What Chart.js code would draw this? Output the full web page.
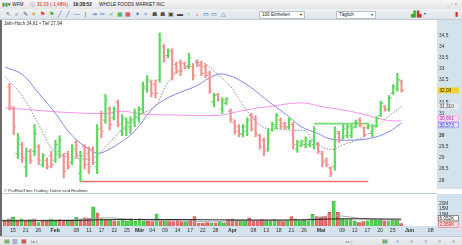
<!DOCTYPE html>
<html>
<head>
<meta charset="utf-8">
<script src="https://cdn.jsdelivr.net/npm/chart.js@4.4.0/dist/chart.umd.min.js"></script>
<style>
  body { margin: 0; width: 462px; height: 245px; overflow: hidden; background: #fff; position: relative;
         font-family: "Liberation Sans", Arial, sans-serif; color: #222; }
  .abs { position: absolute; }
  #titlebar { left: 0; top: 0; width: 462px; height: 9px; background: linear-gradient(#f6f6f6, #e4e4e4); font-size: 4.7px; line-height: 9px; white-space: nowrap; }
  #toolbar { left: 0; top: 9px; width: 462px; height: 10px; background: linear-gradient(#eef1f4, #dfe4e9); border-bottom: 1px solid #c3ccd4; font-size: 6px; line-height: 10px; white-space: nowrap; }
  .ico { position: absolute; top: 0; width: 8px; text-align: center; }
  .drop { position: absolute; top: 2px; height: 6px; background: #fff; border: 1px solid #b9c2ca; font-size: 4.6px; line-height: 6px; padding-left: 2px; box-sizing: content-box; }
  .drop b { position: absolute; right: 2px; font-weight: normal; font-size: 4px; }
  #priceCv { left: 0; top: 20px; }
  #volCv { left: 0; top: 194px; }
  #sep { left: 0; top: 193px; width: 437px; height: 1px; background: #bccad6; }
  #leftbar { left: 0; top: 20px; width: 2px; height: 216px; background: #6b6b6b; }
  #info { left: 4px; top: 21px; font-size: 4.6px; color: #333; }
  #copy { left: 4px; top: 188px; font-size: 4.2px; color: #333; }
  #bottombar { left: 0; top: 236px; width: 462px; height: 9px; background: linear-gradient(#eef0f2, #dde2e6); border-top: 1px solid #c3ccd4; font-size: 6px; line-height: 9px; white-space: nowrap; }
</style>
</head>
<body>
<div id="titlebar" class="abs">
  <span class="abs" style="left:2px;color:#2a9a2a;font-size:5px">▮▮</span>
  <span class="abs" style="left:8px">▾ WFM</span>
  <span class="abs" style="left:30px;color:#777">ⓘ</span>
  <span class="abs" style="left:37px;color:#d22">32,03 (-1,48%)</span>
  <span class="abs" style="left:73px;font-weight:bold">19:38:52</span>
  <span class="abs" style="left:99px">WHOLE FOODS MARKET INC.</span>
  <span class="abs" style="left:447px;color:#999;font-size:5px">_ ▫ ×</span>
</div>
<div id="toolbar" class="abs"></div>
<canvas id="priceCv" class="abs" width="462" height="174"></canvas>
<canvas id="volCv" class="abs" width="462" height="42"></canvas>
<div id="sep" class="abs"></div>
<div id="leftbar" class="abs"></div>
<div id="info" class="abs">Jahr-Hoch 34,61 • Tief 27,94</div>
<div id="copy" class="abs">© ProRealTime Trading: Daten sind Realtime</div>
<div id="bottombar" class="abs">
  <span class="abs" style="left:4px;color:#2a8a2a">▤</span>
  <span class="abs" style="left:12px;color:#3a6ac0">▥</span>
  <span class="abs" style="left:21px;color:#c03030">▦</span>
  <span class="abs" style="left:31px;color:#666;font-size:4px">| ▸ |</span>
  <span class="abs" style="left:345px;color:#888;font-size:4px">◂ ▸ |</span>
  <span class="abs" style="left:382px;color:#2a8a2a">▤</span>
  <span class="abs" style="left:396px;color:#3a6ac0">⌕</span>
  <span class="abs" style="left:410px;color:#3a6ac0">⌕</span>
  <span class="abs" style="left:424px;color:#3a6ac0">⌕</span>
  <span class="abs" style="left:438px;color:#3a6ac0">⌕</span>
  <span class="abs" style="left:452px;color:#3a6ac0">⌕</span>
</div>
<script>
// ===== DATA (daily bars, 13 Jan - 27 May) =====
const open = [32.2, 31.2, 29.2, 29.6, 28.6, 29.3, 29.3, 29.5, 28.7, 28.9, 29.1, 28.9, 29.3, 29.1, 29.2, 28.8, 29.7, 28.3, 29.5, 29.2,
  29.4, 28.6, 31.0, 30.7, 31.2, 30.8, 31.5, 30.2, 30.3, 30.4, 30.6, 30.8, 31.2, 32.1, 32.4, 32.3, 32.5, 34.0, 33.6, 33.8,
  33.2, 33.3, 33.25, 33.1, 33.1, 33.35, 33.2, 33.1, 32.8, 31.5, 31.85, 31.2, 31.45, 31.1, 30.6, 30.4, 30.1, 30.2, 30.9, 30.8,
  30.0, 29.8, 29.4, 30.25, 30.4, 30.7, 30.55, 30.4, 30.5, 29.4, 29.55, 29.6, 29.6, 29.6, 29.6, 29.2, 28.9, 28.55, 28.6, 30.1,
  29.9, 30.0, 30.0, 30.4, 30.7, 30.35, 30.35, 30.1, 30.45, 30.9, 31.3, 31.2, 31.9, 32.1, 32.45];
const high = [32.35, 31.3, 30.1, 29.7, 29.45, 29.4, 30.5, 29.6, 29.2, 29.0, 29.3, 29.8, 30.0, 29.2, 29.3, 29.6, 29.8, 29.3, 29.6, 29.5,
  29.5, 30.5, 31.1, 31.85, 31.3, 31.3, 31.6, 30.95, 30.8, 30.85, 31.2, 31.3, 32.4, 32.7, 32.5, 32.5, 34.61, 34.1, 33.9, 33.9,
  33.3, 33.4, 33.3, 33.7, 33.2, 33.4, 33.35, 33.2, 32.9, 31.9, 31.9, 31.7, 31.7, 31.2, 30.7, 30.5, 30.5, 30.8, 31.0, 30.9,
  30.07, 29.9, 30.3, 30.6, 31.0, 30.8, 30.6, 30.8, 30.6, 29.8, 29.8, 29.95, 29.8, 30.4, 29.7, 29.3, 29.0, 28.6, 30.4, 30.2,
  30.5, 30.5, 30.5, 30.7, 30.8, 30.4, 30.5, 30.5, 30.85, 31.55, 31.35, 31.8, 32.3, 32.8, 32.5];
const low = [31.15, 30.05, 28.97, 28.8, 28.16, 28.75, 29.1, 28.7, 28.6, 28.5, 28.55, 28.8, 29.0, 28.1, 28.5, 28.7, 29.0, 27.94, 28.5, 28.3,
  28.7, 28.3, 29.9, 30.55, 30.25, 30.7, 30.4, 30.0, 30.0, 30.1, 30.4, 30.6, 31.0, 31.95, 31.75, 31.7, 32.4, 33.3, 33.5, 32.5,
  32.8, 32.7, 33.0, 33.0, 32.5, 33.1, 32.7, 32.6, 31.9, 31.3, 31.55, 31.0, 31.4, 30.6, 30.07, 29.95, 29.95, 30.0, 30.2, 29.95,
  29.4, 29.1, 29.3, 30.2, 30.3, 30.3, 30.3, 30.3, 29.4, 29.25, 29.5, 29.45, 29.5, 29.4, 29.2, 28.6, 28.6, 28.16, 28.45, 29.7,
  29.85, 29.9, 29.9, 30.35, 30.4, 29.95, 30.3, 29.95, 30.4, 30.85, 31.1, 31.1, 31.85, 32.0, 31.95];
const close = [31.3, 30.4, 29.85, 29.0, 29.3, 28.9, 30.1, 28.9, 29.1, 28.6, 28.7, 29.6, 29.8, 28.4, 28.6, 29.4, 29.1, 29.1, 28.7, 28.6,
  28.8, 30.3, 30.2, 31.6, 30.5, 31.2, 30.5, 30.8, 30.6, 30.7, 31.0, 31.2, 32.2, 32.5, 31.9, 31.9, 34.3, 33.5, 33.8, 32.8,
  32.9, 32.9, 33.05, 33.5, 32.7, 33.15, 32.8, 32.7, 32.0, 31.8, 31.6, 31.6, 31.65, 30.75, 30.2, 30.05, 30.4, 30.7, 30.3, 30.1,
  29.5, 29.3, 30.1, 30.5, 30.9, 30.4, 30.35, 30.7, 29.6, 29.7, 29.75, 29.85, 29.75, 30.3, 29.3, 28.8, 28.7, 28.3, 30.2, 29.8,
  30.3, 30.4, 30.35, 30.6, 30.45, 30.05, 30.45, 30.4, 30.8, 31.45, 31.15, 31.7, 32.2, 32.51, 32.03];
const volume = [5.1, 6.4, 7.7, 5.1, 6.4, 5.1, 5.6, 6.4, 3.1, 4.6, 4.6, 6.0, 5.1, 5.6, 4.6, 4.4, 5.1, 7.7, 6.4, 7.2,
  7.0, 16.7, 11.5, 6.4, 5.6, 5.1, 4.6, 4.6, 5.6, 4.6, 6.4, 4.1, 6.4, 4.6, 4.1, 3.8, 10.8, 4.6, 4.6, 3.8,
  3.8, 5.1, 3.8, 3.8, 5.1, 8.2, 2.6, 2.6, 3.1, 2.6, 2.6, 3.8, 2.6, 5.6, 6.4, 5.1, 5.1, 5.1, 7.2, 4.6,
  4.6, 5.6, 4.6, 4.6, 5.6, 4.6, 3.8, 4.6, 8.2, 6.4, 4.6, 5.1, 4.6, 10.3, 8.2, 7.7, 8.2, 12.0, 22.0, 12.0,
  6.4, 5.6, 6.4, 4.6, 3.1, 3.8, 4.6, 5.1, 5.1, 5.6, 4.6, 3.8, 5.6, 5.1, 2.069];

// moving averages: [bar index, value]
const maFast = [[-1, 32.64], [3, 31.8], [7, 30.5], [11, 29.24], [15, 29.02], [19, 28.95], [21, 29.1], [24, 29.7], [30, 30.8], [35, 31.36],
  [38, 32.4], [42, 33.07], [46, 33.28], [49, 32.9], [53, 32.2], [55, 31.65], [58, 30.87], [61, 30.37], [65, 30.3], [68, 30.23],
  [71, 30.2], [73, 29.73], [77, 29.38], [80, 29.59], [84, 29.87], [87, 30.23], [90, 30.73], [94, 31.31]];
const maMid = [[-1, 33.07], [3, 32.75], [7, 31.9], [11, 31.0], [15, 30.0], [19, 29.4], [21, 29.22], [23, 29.3], [27, 29.75], [30, 30.2],
  [34, 31.15], [37, 31.6], [41, 31.95], [45, 32.25], [48, 32.6], [51, 32.77], [56, 32.4], [62, 31.55], [67, 30.85], [70, 30.4],
  [74, 30.09], [77, 29.85], [82, 29.8], [87, 29.9], [91, 30.18], [94, 30.573]];
const maSlow = [[-1, 31.25], [6, 31.15], [13, 31.05], [23, 31.0], [27, 31.1], [32, 30.97], [39, 30.93], [48, 30.9], [51, 30.93], [54, 31.05],
  [58, 31.2], [62, 31.3], [70, 31.47], [75, 31.3], [80, 31.15], [84, 31.0], [88, 30.8], [91, 30.68], [94, 30.661]];
const volMaLong = [[-1, 4.6], [15, 4.8], [25, 5.6], [40, 5.7], [55, 5.3], [70, 5.4], [80, 6.3], [94, 6.052]];
const volMaShort = [[-1, 5.0], [10, 5.2], [18, 5.6], [24, 7.2], [32, 5.4], [42, 4.6], [52, 3.6], [60, 5.0], [70, 5.2], [78, 9.0], [86, 6.0], [94, 5.0]];

// drawn lines: support at the year low and a green resistance line
const lowLine = [[17, 27.94], [86, 27.94]];
const greenLine = [[73, 30.54], [86.2, 30.54]];

// axis ticks
const priceTicks = [28, 28.5, 29, 29.5, 30, 30.5, 31, 31.5, 32, 32.5, 33, 33.5, 34, 34.5];
const volTicks = [10, 15, 20];
const dateTickIdx = [2, 5, 8, 12, 17, 20, 23, 26, 29, 32, 35, 38, 41, 44, 47, 50, 54, 59, 62, 65, 68, 71, 75, 80, 83, 86, 89, 92, 96, 101];
const dateTickLbl = ["15", "21", "26", "Feb", "08", "11", "17", "22", "25", "Mär", "04", "09", "14", "17", "22", "28", "Apr", "08", "13", "18", "21", "26", "Mai", "09", "12", "17", "20", "25", "Jun", "08"];

// ===== toolbar icons =====
const icons = [["↖", "#445"], ["⌕", "#445"], ["✎", "#556"], ["☀", "#c9a000"], ["⚑", "#d33"], ["⚑", "#3a3"], ["╱", "#36c"], ["╱", "#36c"],
  ["—", "#36c"], ["|", "#36c"], ["⇝", "#36c"], ["✂", "#36c"], ["✓", "#3a3"], ["▦", "#3a3"], ["▦", "#c33"], ["✦", "#36c"], ["✧", "#36c"],
  ["☗", "#555"], ["☗", "#555"], ["▣", "#444"], ["▬", "#444"], ["↑", "#2b2"], ["↓", "#d22"], ["▭", "#36c"], ["▭", "#36c"], ["△", "#36c"]];
const tb = document.getElementById("toolbar");
icons.forEach(([c, col], i) => {
  const s = document.createElement("span");
  s.className = "ico";
  s.style.left = (4 + i * 8.6) + "px";
  s.style.color = col;
  s.textContent = c;
  tb.appendChild(s);
});
tb.insertAdjacentHTML("beforeend",
  '<div class="drop" style="left:259px;width:42px">100 Einheiten<b>▾</b></div>' +
  '<div class="drop" style="left:336px;width:36px">Täglich<b>▾</b></div>' +
  '<span class="abs" style="left:411px;color:#3a3">▟</span><span class="abs" style="left:417px;color:#c33">▙</span>' +
  '<span class="abs" style="left:424px;font-size:4px;color:#444">▾</span>' +
  '<span class="abs" style="left:455px;color:#c33">▮</span>');

// ===== helpers =====
const GREEN = "#5ad85a", RED = "#f29090";
const AXIS_BG = "#d3e2ec";
const X_MIN = -1.09, X_MAX = 102.5;
const idx = close.map((_, i) => i);
const up = idx.map(i => close[i] >= open[i]);
const pts = arr => arr.map(([x, y]) => ({ x, y }));
const font = (size, bold) => ({ family: "'Liberation Sans', Arial, sans-serif", size, weight: bold ? "bold" : "normal" });

function drawTags(chart, scale, fmt) {
  const { ctx } = chart;
  const tags = chart.data.datasets.filter(d => d.tag).map(d => {
    const last = d.data[d.data.length - 1];
    const v = Array.isArray(last.y) ? last.y[1] : last.y;
    return { v, y: scale.getPixelForValue(v), ...d.tag };
  }).sort((a, b) => a.y - b.y);
  const gap = 6.4;
  for (let k = 0; k < 4; k++) {
    for (let i = 1; i < tags.length; i++) {
      const d = tags[i].y - tags[i - 1].y;
      if (d < gap) { const p = (gap - d) / 2; tags[i - 1].y -= p; tags[i].y += p; }
    }
  }
  const x0 = chart.chartArea.right + 1;
  ctx.save();
  ctx.font = "4.7px 'Liberation Sans', Arial, sans-serif";
  ctx.textBaseline = "middle";
  tags.forEach(t => {
    ctx.fillStyle = t.fill;
    ctx.fillRect(x0, t.y - 3, 21, 6);
    if (t.stroke) { ctx.strokeStyle = t.stroke; ctx.lineWidth = 0.6; ctx.strokeRect(x0 + 0.3, t.y - 2.7, 20.4, 5.4); }
    ctx.fillStyle = t.text;
    ctx.fillText(fmt(t.v, t.digits), x0 + 1.5, t.y + 0.3);
  });
  ctx.restore();
}

const axisBg = {
  id: "axisBg",
  beforeDraw(chart) {
    const { ctx, chartArea: a, width, height } = chart;
    ctx.save();
    ctx.fillStyle = AXIS_BG;
    ctx.fillRect(a.right, 0, width - a.right, a.bottom);
    if (chart.canvas.id === "volCv") ctx.fillRect(0, a.bottom, width, height - a.bottom);
    ctx.restore();
  }
};

// ===== PRICE CHART =====
new Chart(document.getElementById("priceCv"), {
  type: "bar",
  data: {
    datasets: [
      { type: "line", data: idx.map(i => ({ x: i - 0.32, y: open[i] })), showLine: false, pointStyle: "line",
        pointRadius: 1.2, pointBorderWidth: 1, pointBorderColor: idx.map(i => up[i] ? GREEN : RED) },
      { type: "line", data: idx.map(i => ({ x: i + 0.32, y: close[i] })), showLine: false, pointStyle: "line",
        pointRadius: 1.2, pointBorderWidth: 1, pointBorderColor: idx.map(i => up[i] ? GREEN : RED),
        tag: { fill: "#f2d22e", text: "#222", digits: 2 } },
      { type: "bar", data: idx.map(i => ({ x: i, y: [low[i], high[i]] })), backgroundColor: idx.map(i => up[i] ? GREEN : RED),
        barThickness: 1.5, borderWidth: 0, grouped: false },
      { type: "line", data: pts(maFast), borderColor: "#8a8a8a", borderWidth: 1, borderDash: [1.5, 1.5], pointRadius: 0,
        tension: 0.4, tag: { fill: "#e9ecef", text: "#444", digits: 3 } },
      { type: "line", data: pts(maMid), borderColor: "#8484ee", borderWidth: 1, pointRadius: 0, tension: 0.4,
        tag: { fill: "#e2e4fb", text: "#3438c0", stroke: "#8484ee", digits: 3 } },
      { type: "line", data: pts(maSlow), borderColor: "#f48fe9", borderWidth: 1, pointRadius: 0, tension: 0.4,
        tag: { fill: "#fbe0f7", text: "#b02aa0", stroke: "#f48fe9", digits: 3 } },
      { type: "line", data: pts(lowLine), borderColor: "#f07070", borderWidth: 1.6, pointRadius: 0 },
      { type: "line", data: pts(greenLine), borderColor: "#6ee06e", borderWidth: 1.6, pointRadius: 0 }
    ]
  },
  options: {
    responsive: false, animation: false, devicePixelRatio: 1,
    layout: { padding: { top: 0, bottom: 1, left: 0, right: 0 } },
    plugins: { legend: { display: false }, tooltip: { enabled: false } },
    scales: {
      x: { type: "linear", min: X_MIN, max: X_MAX, offset: false, display: false },
      y: {
        position: "right", min: 27.606, max: 34.968,
        afterFit(s) { s.width = 25; },
        afterBuildTicks(s) { s.ticks = priceTicks.map(v => ({ value: v })); },
        grid: { display: false, drawTicks: false }, border: { display: false },
        ticks: {
          padding: 2, color: "#333",
          font: c => font(4.8, c.tick && c.tick.value === 30),
          callback: v => String(v).replace(".", ",")
        }
      }
    }
  },
  plugins: [axisBg, {
    id: "priceTags",
    afterDraw(chart) { drawTags(chart, chart.scales.y, (v, d) => v.toFixed(d).replace(".", ",")); }
  }]
});

// ===== VOLUME CHART (with date axis) =====
new Chart(document.getElementById("volCv"), {
  type: "bar",
  data: {
    datasets: [
      { type: "line", data: pts(volMaLong), borderColor: "#262626", borderWidth: 1, pointRadius: 0, tension: 0.4,
        tag: { fill: "#ffffff", text: "#222", stroke: "#444", digits: 0 } },
      { type: "line", data: pts(volMaShort), borderColor: "#a8a8a8", borderWidth: 1, pointRadius: 0, tension: 0.4 },
      { type: "bar", data: idx.map(i => ({ x: i, y: volume[i] })), grouped: false, barThickness: 3.2,
        backgroundColor: idx.map(i => up[i] ? "#4fd24f" : "#e66e6e"),
        borderColor: idx.map(i => up[i] ? "#2f9f2f" : "#c04c4c"), borderWidth: 0.5,
        tag: { fill: "#fbe2e2", text: "#d02828", stroke: "#e07070", digits: 0 } }
    ]
  },
  options: {
    responsive: false, animation: false, devicePixelRatio: 1,
    layout: { padding: { top: 1, bottom: 0, left: 0, right: 0 } },
    plugins: { legend: { display: false }, tooltip: { enabled: false } },
    scales: {
      x: {
        type: "linear", min: X_MIN, max: X_MAX, offset: false, position: "bottom",
        afterFit(s) { s.height = 10; },
        afterBuildTicks(s) { s.ticks = dateTickIdx.map(v => ({ value: v })); },
        grid: { display: false, drawTicks: false, offset: false }, border: { display: false },
        ticks: {
          autoSkip: false, maxRotation: 0, padding: 1.5, color: "#333",
          font: c => font(5.2, c.tick && /^[A-Z]/.test(dateTickLbl[dateTickIdx.indexOf(c.tick.value)] || "")),
          callback: v => dateTickLbl[dateTickIdx.indexOf(v)] || ""
        }
      },
      y: {
        position: "right", min: 0, max: 23.85,
        afterFit(s) { s.width = 25; },
        afterBuildTicks(s) { s.ticks = volTicks.map(v => ({ value: v })); },
        grid: { display: false, drawTicks: false }, border: { display: false },
        ticks: { padding: 2, color: "#333", font: font(4.8), callback: v => v + "M" }
      }
    }
  },
  plugins: [axisBg, {
    id: "volTags",
    afterDraw(chart) { drawTags(chart, chart.scales.y, v => Math.round(v * 1000).toLocaleString("de-DE") + "K"); }
  }]
});
</script>
</body>
</html>
